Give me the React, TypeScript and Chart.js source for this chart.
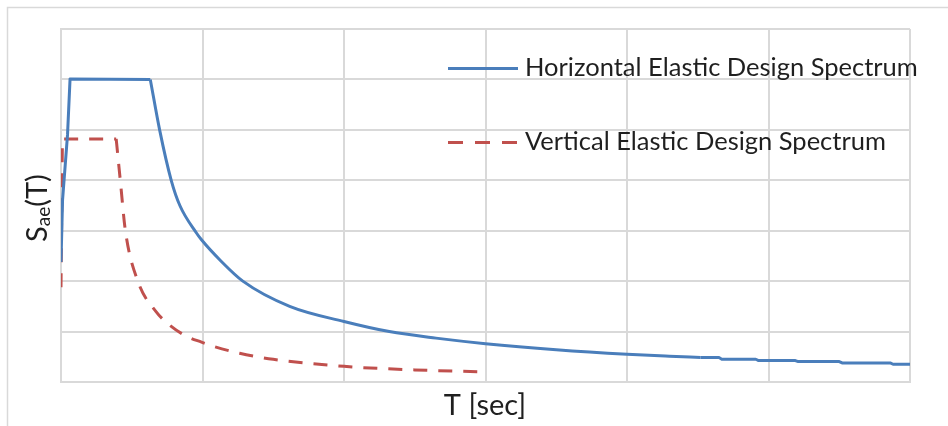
import React, { useEffect, useRef } from "react";
import { Chart, registerables } from "chart.js";

Chart.register(...registerables);

// Horizontal elastic design spectrum (T in sec, Sae in g)
const H_T = [0, 0.011, 0.046, 0.064, 0.631, 0.697, 0.779, 0.84, 0.956, 0.993, 1.13, 1.285, 1.616, 2.0, 2.32, 2.65, 3.0, 3.5, 4.0, 4.3, 4.52, 4.65, 4.67, 4.91, 4.93, 5.19, 5.21, 5.5, 5.52, 5.86, 5.88, 6.0];
const H_SA = [0.238, 0.361, 0.49, 0.601, 0.6, 0.5, 0.4, 0.35, 0.296, 0.282, 0.24, 0.2, 0.15, 0.12, 0.1, 0.087, 0.076, 0.064, 0.055, 0.051, 0.0485, 0.0485, 0.0451, 0.0451, 0.0425, 0.0425, 0.0405, 0.0405, 0.0378, 0.0378, 0.0352, 0.0352];
// index ranges: rise + plateau (straight), decay (smooth), stepped tail (straight)
const H_SPLITS = [4, 20];

// Vertical elastic design spectrum
const V_T = [0, 0.01, 0.39, 0.419, 0.455, 0.543, 0.673, 0.767, 0.885, 0.993, 1.074, 1.262, 1.5, 2.0, 2.5, 3.0];
const V_SA = [0.188, 0.482, 0.482, 0.4, 0.3, 0.2, 0.139, 0.113, 0.091, 0.079, 0.071, 0.057, 0.045, 0.031, 0.024, 0.02];
const V_SPLITS = [2];

const SERIES_LABELS = ["Horizontal Elastic Design Spectrum", "Vertical Elastic Design Spectrum"];
const X_TITLE = "T [sec]";
const Y_TITLE_MAIN = "S";
const Y_TITLE_SUB = "ae";
const Y_TITLE_END = "(T)";

const BLUE = "#4a7ebb";
const RED = "#c0504d";
const GRID = "#d9d9d9";
const TEXT = "#1f1f1f";
const FONT = "Lato, 'Open Sans', sans-serif";
const RED_DASH = [14, 11];

function pieces(xs: number[], ys: number[], splits: number[]) {
  const bounds = [0, ...splits, xs.length - 1];
  const out: { x: number; y: number }[][] = [];
  for (let k = 0; k < bounds.length - 1; k++) {
    const seg: { x: number; y: number }[] = [];
    for (let i = bounds[k]; i <= bounds[k + 1]; i++) seg.push({ x: xs[i], y: ys[i] });
    out.push(seg);
  }
  return out;
}

const decorPlugin = {
  id: "decor",
  beforeDraw(chart: any) {
    const ctx = chart.ctx;
    ctx.save();
    ctx.strokeStyle = GRID;
    ctx.lineWidth = 1.5;
    ctx.strokeRect(7.5, 7.5, 1000, 1000);
    ctx.restore();
  },
  afterDraw(chart: any) {
    const ctx = chart.ctx;
    ctx.save();
    const items = [
      { label: SERIES_LABELS[0], color: BLUE, dash: [] as number[], y: 68.5, base: 76 },
      { label: SERIES_LABELS[1], color: RED, dash: [15, 12], y: 142.5, base: 150 },
    ];
    for (const it of items) {
      ctx.beginPath();
      ctx.strokeStyle = it.color;
      ctx.lineWidth = 3;
      ctx.setLineDash(it.dash);
      ctx.lineCap = "butt";
      ctx.moveTo(448, it.y);
      ctx.lineTo(518, it.y);
      ctx.stroke();
      ctx.setLineDash([]);
      ctx.fillStyle = TEXT;
      ctx.font = `25.5px ${FONT}`;
      ctx.textAlign = "left";
      ctx.textBaseline = "alphabetic";
      ctx.fillText(it.label, 525, it.base);
    }
    ctx.font = `29px ${FONT}`;
    ctx.textAlign = "center";
    ctx.fillText(X_TITLE, 485, 415);
    ctx.translate(47, 242);
    ctx.rotate(-Math.PI / 2);
    ctx.textAlign = "left";
    ctx.font = `29px ${FONT}`;
    ctx.fillText(Y_TITLE_MAIN, 0, 0);
    let w = ctx.measureText(Y_TITLE_MAIN).width;
    ctx.font = `19px ${FONT}`;
    ctx.fillText(Y_TITLE_SUB, w, 3);
    w += ctx.measureText(Y_TITLE_SUB).width;
    ctx.font = `29px ${FONT}`;
    ctx.fillText(Y_TITLE_END, w, 0);
    ctx.restore();
  },
};

export default function App() {
  const ref = useRef<HTMLCanvasElement | null>(null);
  useEffect(() => {
    if (!ref.current) return;
    const hPieces = pieces(H_T, H_SA, H_SPLITS);
    const vPieces = pieces(V_T, V_SA, V_SPLITS);
    const datasets: any[] = [];
    hPieces.forEach((seg, k) =>
      datasets.push({
        label: SERIES_LABELS[0],
        data: seg,
        showLine: true,
        borderColor: BLUE,
        borderWidth: 3,
        pointRadius: 0,
        borderJoinStyle: "round",
        cubicInterpolationMode: k === 1 ? "monotone" : "default",
        tension: k === 1 ? 0.4 : 0,
      })
    );
    vPieces.forEach((seg, k) =>
      datasets.push({
        label: SERIES_LABELS[1],
        data: seg,
        showLine: true,
        borderColor: RED,
        borderWidth: 3,
        borderDash: RED_DASH,
        pointRadius: 0,
        borderJoinStyle: "round",
        cubicInterpolationMode: k === 1 ? "monotone" : "default",
        tension: k === 1 ? 0.4 : 0,
      })
    );
    const chart = new Chart(ref.current, {
      type: "scatter",
      data: { datasets },
      options: {
        responsive: false,
        animation: false,
        devicePixelRatio: 1,
        layout: { padding: { left: 61, top: 29, right: 38, bottom: 44 } },
        plugins: { legend: { display: false }, tooltip: { enabled: false } },
        scales: {
          x: {
            type: "linear",
            min: 0,
            max: 6,
            ticks: { display: false, stepSize: 1 },
            grid: { color: GRID, lineWidth: 2, drawTicks: false },
            border: { color: GRID, width: 2 },
          },
          y: {
            type: "linear",
            min: 0,
            max: 0.7,
            ticks: { display: false, stepSize: 0.1 },
            grid: { color: GRID, lineWidth: 2, drawTicks: false },
            border: { color: GRID, width: 2 },
          },
        },
      },
      plugins: [decorPlugin],
    });
    return () => chart.destroy();
  }, []);
  return (
    <div style={{ position: "absolute", left: 0, top: 0, width: 948, height: 426, background: "#fff" }}>
      <canvas ref={ref} width={948} height={426} style={{ display: "block" }} />
    </div>
  );
}
